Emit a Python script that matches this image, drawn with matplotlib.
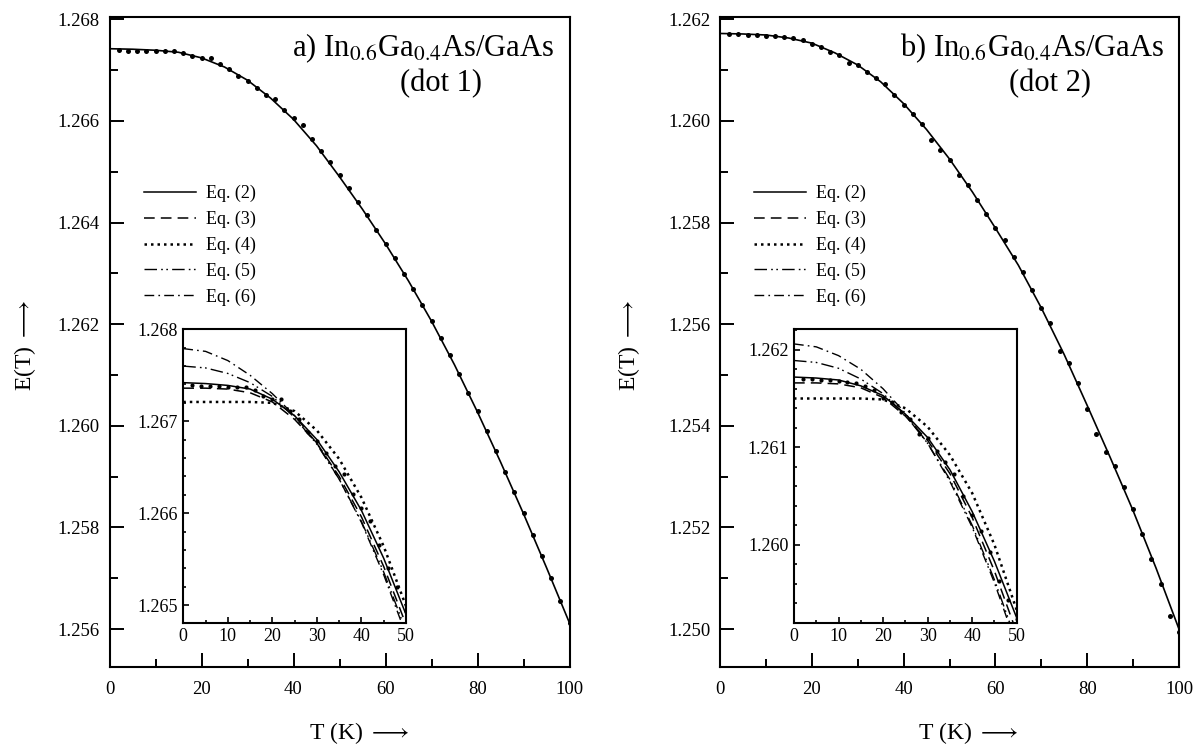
import matplotlib
matplotlib.use("Agg")
import matplotlib.pyplot as plt
from matplotlib.ticker import MultipleLocator, FormatStrFormatter

plt.rcParams['font.family'] = ['Liberation Serif', 'DejaVu Serif']
plt.rcParams['mathtext.fontset'] = 'stix'

# --- data ---
T_fit = [0, 5, 10, 15, 20, 25, 30, 35, 40, 45, 50, 55, 60, 65, 70, 75, 80, 85, 90, 95, 100]
T_in = [0, 5, 10, 15, 20, 25, 30, 35, 40, 45, 50]
T_dots = list(range(2, 101, 2))

# dot 1
fit_a = [1.26742, 1.26741, 1.26739, 1.26735, 1.26724, 1.26706, 1.26680, 1.26645, 1.26603, 1.26551,
         1.26490, 1.26426, 1.26358, 1.26285, 1.26206, 1.26120, 1.26027, 1.25929, 1.25827, 1.25721, 1.25612]
dots_a = [1.26739, 1.26738, 1.26738, 1.26738, 1.26737, 1.26737, 1.26737, 1.26734, 1.26728, 1.26724,
          1.26724, 1.26711, 1.26702, 1.26688, 1.26679, 1.26665, 1.26651, 1.26643, 1.26621, 1.26606,
          1.26592, 1.26565, 1.26541, 1.26520, 1.26494, 1.26468, 1.26441, 1.26414, 1.26386, 1.26357,
          1.26330, 1.26299, 1.26270, 1.26238, 1.26207, 1.26172, 1.26139, 1.26101, 1.26065, 1.26030,
          1.25990, 1.25950, 1.25910, 1.25869, 1.25828, 1.25785, 1.25743, 1.25700, 1.25656, 1.25612]
eq3_a = [1.26736, 1.26736, 1.26735, 1.26731, 1.26721, 1.26702, 1.26676, 1.26640, 1.26596, 1.26542, 1.26479]
eq4_a = [1.26721, 1.26721, 1.26721, 1.26721, 1.26720, 1.26711, 1.26690, 1.26659, 1.26617, 1.26564, 1.26499]
eq5_a = [1.26760, 1.26758, 1.26752, 1.26742, 1.26727, 1.26704, 1.26675, 1.26637, 1.26591, 1.26536, 1.26472]
eq6_a = [1.26779, 1.26776, 1.26766, 1.26750, 1.26730, 1.26706, 1.26676, 1.26637, 1.26590, 1.26533, 1.26468]

# dot 2
fit_b = [1.26172, 1.26171, 1.26169, 1.26163, 1.26153, 1.26134, 1.26110, 1.26077, 1.26034, 1.25983,
         1.25925, 1.25860, 1.25789, 1.25716, 1.25632, 1.25540, 1.25440, 1.25338, 1.25233, 1.25120, 1.25000]
dots_b = [1.26170, 1.26170, 1.26169, 1.26169, 1.26168, 1.26167, 1.26166, 1.26163, 1.26159, 1.26151,
          1.26146, 1.26136, 1.26129, 1.26114, 1.26109, 1.26096, 1.26085, 1.26073, 1.26050, 1.26031,
          1.26014, 1.25993, 1.25963, 1.25943, 1.25924, 1.25894, 1.25874, 1.25844, 1.25817, 1.25789,
          1.25766, 1.25732, 1.25703, 1.25667, 1.25632, 1.25602, 1.25547, 1.25524, 1.25484, 1.25433,
          1.25384, 1.25349, 1.25320, 1.25279, 1.25236, 1.25187, 1.25137, 1.25088, 1.25026, 1.24995]
eq3_b = [1.26166, 1.26166, 1.26165, 1.26161, 1.26151, 1.26132, 1.26107, 1.26073, 1.26028, 1.25973, 1.25910]
eq4_b = [1.26150, 1.26150, 1.26150, 1.26150, 1.26149, 1.26140, 1.26121, 1.26092, 1.26053, 1.26000, 1.25933]
eq5_b = [1.26189, 1.26187, 1.26181, 1.26170, 1.26155, 1.26133, 1.26104, 1.26067, 1.26020, 1.25964, 1.25900]
eq6_b = [1.26206, 1.26203, 1.26194, 1.26180, 1.26160, 1.26135, 1.26104, 1.26065, 1.26018, 1.25961, 1.25896]

W, H = 1201, 746
fig = plt.figure(figsize=(W / 100, H / 100), dpi=100)


def px(x0, y0, x1, y1):
    # pixel box (top-left origin) -> figure fraction rect
    return [x0 / W, 1 - y1 / H, (x1 - x0) / W, (y1 - y0) / H]


styles = {
    'eq2': dict(ls='-', lw=1.1),
    'eq3': dict(ls=(0, (7, 4)), lw=1.1),
    'eq4': dict(ls=(0, (1, 1.6)), lw=1.8),
    'eq5': dict(ls=(0, (9, 3, 1.2, 2.5, 1.2, 3)), lw=1.0),
    'eq6': dict(ls=(0, (7, 3, 1.2, 3)), lw=1.0),
}


def draw_panel(x0, x1, fit, dots, eq3, eq4, eq5, eq6, ylim, ylim_in, in_x0, label, subtitle):
    ax = fig.add_axes(px(x0, 16.7, x1, 666.7))
    ax.plot(T_fit, fit, color='k', lw=1.2)
    ax.plot(T_dots, dots, 'o', color='k', ms=3.6, mew=0)
    ax.set_xlim(0, 100)
    ax.set_ylim(*ylim)
    ax.xaxis.set_major_locator(MultipleLocator(20))
    ax.xaxis.set_minor_locator(MultipleLocator(10))
    ax.yaxis.set_major_locator(MultipleLocator(0.002))
    ax.yaxis.set_minor_locator(MultipleLocator(0.001))
    ax.yaxis.set_major_formatter(FormatStrFormatter('%.3f'))
    ax.tick_params(which='both', direction='in', top=False, right=False, width=1.4, labelsize=13.5)
    ax.tick_params(which='major', length=10, pad=7)
    ax.tick_params(axis='x', which='major', pad=10)
    ax.tick_params(which='minor', length=5.5)
    for s in ax.spines.values():
        s.set_linewidth(1.5)

    ax.text(0.967, 0.952, label, transform=ax.transAxes, ha='right', va='center', fontsize=22)
    ax.text(0.72, 0.897, subtitle, transform=ax.transAxes, ha='center', va='center', fontsize=22)

    ins = fig.add_axes(px(in_x0, 329.3, in_x0 + 222.7, 622.7))
    h2, = ins.plot(T_in, fit[:11], color='k', label='Eq. (2)', **styles['eq2'])
    h3, = ins.plot(T_in, eq3, color='k', label='Eq. (3)', **styles['eq3'])
    h4, = ins.plot(T_in, eq4, color='k', label='Eq. (4)', **styles['eq4'])
    h5, = ins.plot(T_in, eq5, color='k', label='Eq. (5)', **styles['eq5'])
    h6, = ins.plot(T_in, eq6, color='k', label='Eq. (6)', **styles['eq6'])
    ins.plot(T_dots[:25], dots[:25], 'o', color='k', ms=3.0, mew=0)
    ins.set_xlim(0, 50)
    ins.set_ylim(*ylim_in)
    ins.xaxis.set_major_locator(MultipleLocator(10))
    ins.xaxis.set_minor_locator(MultipleLocator(5))
    ins.yaxis.set_major_locator(MultipleLocator(0.001))
    ins.yaxis.set_minor_locator(MultipleLocator(0.0002))
    ins.yaxis.set_major_formatter(FormatStrFormatter('%.3f'))
    ins.tick_params(which='both', direction='in', top=False, right=False, width=1.2, labelsize=13)
    ins.tick_params(which='major', length=4.5, pad=4)
    ins.tick_params(which='minor', length=2.5)
    for s in ins.spines.values():
        s.set_linewidth(1.5)

    ax.legend(handles=[h2, h3, h4, h5, h6], loc='upper left',
              bbox_to_anchor=((x0 + 34) / W, 1 - 185 / H), bbox_transform=fig.transFigure,
              frameon=False, fontsize=13, borderpad=0, borderaxespad=0,
              handlelength=2.9, handletextpad=0.55, labelspacing=0.47)
    return ax


draw_panel(109.5, 569.5, fit_a, dots_a, eq3_a, eq4_a, eq5_a, eq6_a,
           (1.25526, 1.26805), (1.26481, 1.26800), 183.3,
           r'a) In$_{0.6}$Ga$_{0.4}$As/GaAs', '(dot 1)')
draw_panel(720, 1179, fit_b, dots_b, eq3_b, eq4_b, eq5_b, eq6_b,
           (1.24926, 1.26205), (1.25920, 1.26221), 794,
           r'b) In$_{0.6}$Ga$_{0.4}$As/GaAs', '(dot 2)')

for xl, xt in [(25, 309), (629, 918)]:
    fig.text(xl / W, 1 - 345 / H, r'E(T) $\longrightarrow$', rotation=90, ha='center', va='center', fontsize=17)
    fig.text(xt / W, 1 - 733 / H, r'T (K) $\longrightarrow$', ha='left', va='center', fontsize=17)

fig.savefig('out.png', dpi=100)
